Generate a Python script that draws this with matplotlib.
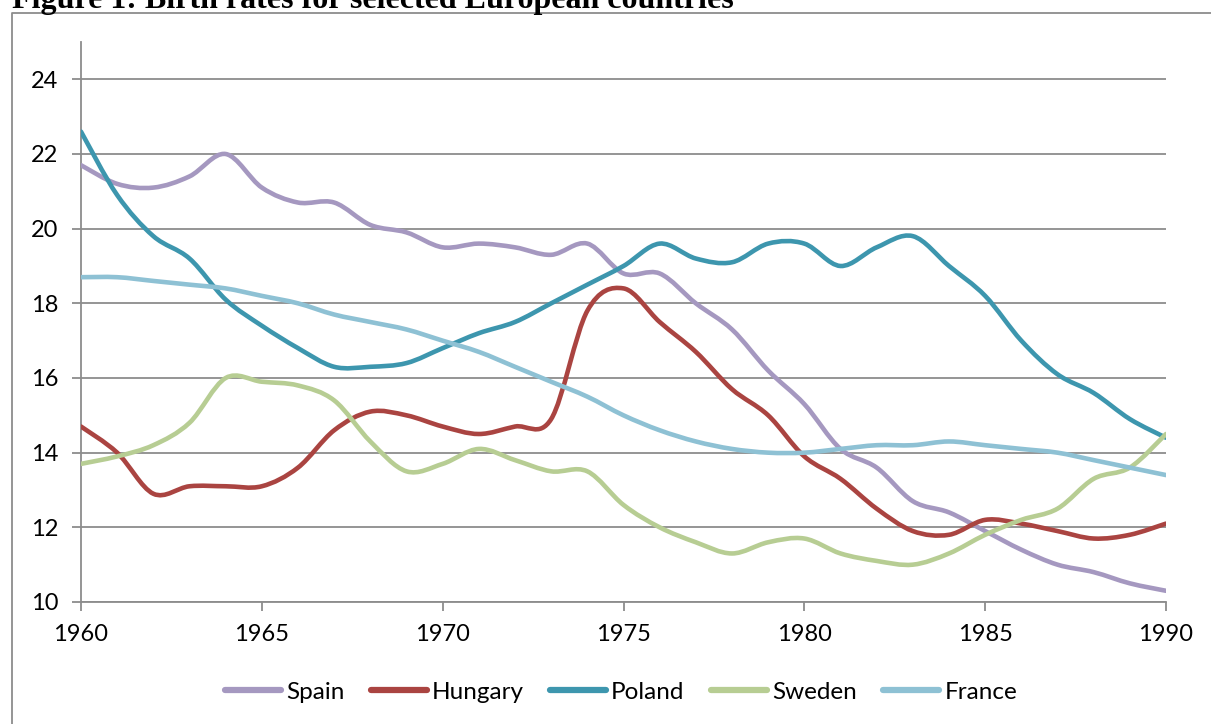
import numpy as np
import matplotlib
matplotlib.use('Agg')
from matplotlib import pyplot as plt
from matplotlib.path import Path
from matplotlib.patches import PathPatch
from matplotlib.lines import Line2D

years = list(range(1960, 1991))

spain = [21.7, 21.2, 21.1, 21.4, 22.0, 21.1, 20.7, 20.7, 20.1, 19.9, 19.5,
         19.6, 19.5, 19.3, 19.6, 18.8, 18.8, 18.0, 17.3, 16.2, 15.3,
         14.1, 13.6, 12.7, 12.4, 11.9, 11.4, 11.0, 10.8, 10.5, 10.3]
hungary = [14.7, 14.0, 12.9, 13.1, 13.1, 13.1, 13.6, 14.6, 15.1, 15.0, 14.7,
           14.5, 14.7, 14.9, 17.8, 18.4, 17.5, 16.7, 15.7, 15.0, 13.9,
           13.3, 12.5, 11.9, 11.8, 12.2, 12.1, 11.9, 11.7, 11.8, 12.1]
poland = [22.6, 20.9, 19.8, 19.2, 18.1, 17.4, 16.8, 16.3, 16.3, 16.4, 16.8,
          17.2, 17.5, 18.0, 18.5, 19.0, 19.6, 19.2, 19.1, 19.6, 19.6,
          19.0, 19.5, 19.8, 19.0, 18.2, 17.0, 16.1, 15.6, 14.9, 14.4]
sweden = [13.7, 13.9, 14.2, 14.8, 16.0, 15.9, 15.8, 15.4, 14.3, 13.5, 13.7,
          14.1, 13.8, 13.5, 13.5, 12.6, 12.0, 11.6, 11.3, 11.6, 11.7,
          11.3, 11.1, 11.0, 11.3, 11.8, 12.2, 12.5, 13.3, 13.6, 14.5]
france = [18.7, 18.7, 18.6, 18.5, 18.4, 18.2, 18.0, 17.7, 17.5, 17.3, 17.0,
          16.7, 16.3, 15.9, 15.5, 15.0, 14.6, 14.3, 14.1, 14.0, 14.0,
          14.1, 14.2, 14.2, 14.3, 14.2, 14.1, 14.0, 13.8, 13.6, 13.4]

names = ['Spain', 'Hungary', 'Poland', 'Sweden', 'France']
series = [spain, hungary, poland, sweden, france]
colors = ['#A598C0', '#AA4441', '#3D96AE', '#B7CD93', '#8EC1D4']

plt.rcParams['font.family'] = ['Lato', 'DejaVu Sans']


def smooth_path(x, y):
    # excel style smoothed line: cubic bezier through every point
    pts = np.column_stack([x, y]).astype(float)
    ext = np.vstack([pts[0], pts, pts[-1]])
    verts = [pts[0]]
    codes = [Path.MOVETO]
    for i in range(len(pts) - 1):
        p0, p1, p2, p3 = ext[i], ext[i + 1], ext[i + 2], ext[i + 3]
        verts += [p1 + (p2 - p0) / 6, p2 - (p3 - p1) / 6, p2]
        codes += [Path.CURVE4] * 3
    return Path(verts, codes)


fig = plt.figure(figsize=(12.11, 7.24), dpi=100)
ax = fig.add_axes([81 / 1211, 1 - 602 / 724, (1166 - 81) / 1211, (602 - 42) / 724])

grid_color = '#8C8C8C'
handles = []
for name, vals, c in zip(names, series, colors):
    ax.add_patch(PathPatch(smooth_path(years, vals), fill=False, edgecolor=c,
                           lw=3.3, capstyle='round', joinstyle='round', zorder=3))
    handles.append(Line2D([], [], color=c, lw=4.5, solid_capstyle='round', label=name))

ax.set_xlim(1960, 1990)
ax.set_ylim(10, 25)
ax.set_xticks(range(1960, 1991, 5))
ax.set_yticks(range(10, 25, 2))
ax.yaxis.grid(True, color=grid_color, lw=1.3)
ax.set_axisbelow(True)
for s in ['top', 'right']:
    ax.spines[s].set_visible(False)
for s in ['left', 'bottom']:
    ax.spines[s].set_color(grid_color)
    ax.spines[s].set_linewidth(1.3)
ax.tick_params(axis='both', direction='out', length=6.5, width=1.3, color=grid_color,
               labelsize=17, labelcolor='black')
ax.tick_params(axis='y', pad=10)
ax.tick_params(axis='x', pad=9)

fig.legend(handles=handles, loc='center', bbox_to_anchor=(621 / 1211, 1 - 692 / 724),
           ncol=5, frameon=False, fontsize=17.5, handlelength=2.3, handletextpad=0.2,
           columnspacing=1.1)

# outer chart border (left and top edges visible)
fig.add_artist(Line2D([12 / 1211, 12 / 1211, 1.0], [0.0, 1 - 13 / 724, 1 - 13 / 724],
                      transform=fig.transFigure, color='#8C8C8C', lw=1.3))

fig.text(12 / 1211, 1 - 8 / 724, 'Figure 1: Birth rates for selected European countries',
         family='Liberation Serif', weight='bold', fontsize=23, va='baseline', ha='left')

fig.savefig('out.png', dpi=100)
